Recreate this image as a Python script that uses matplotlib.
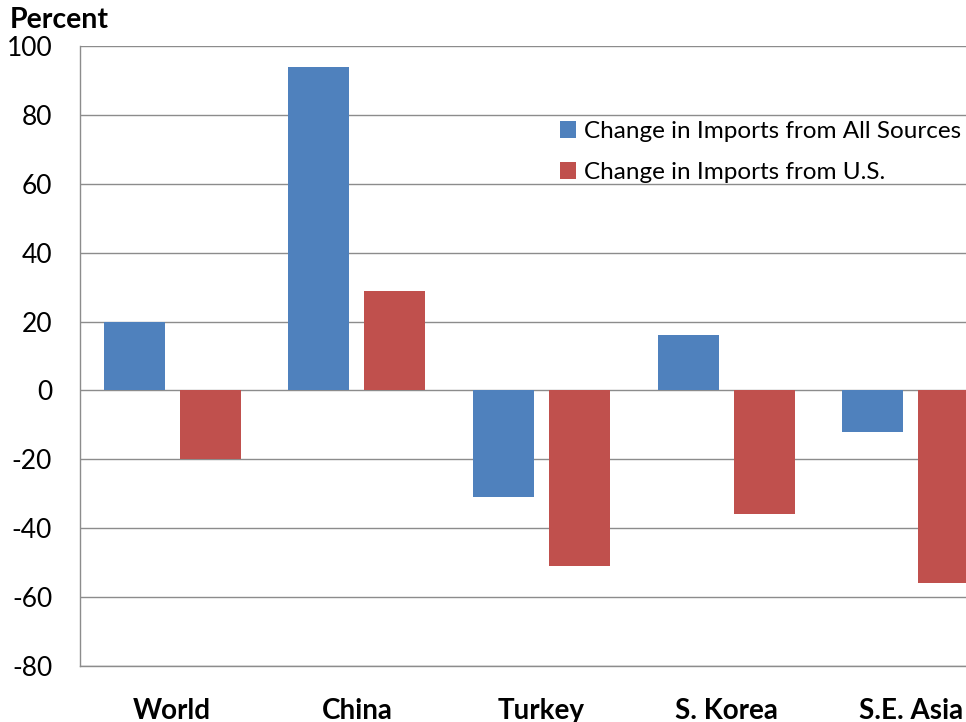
import matplotlib.pyplot as plt
import numpy as np

plt.rcParams['font.family'] = ['Lato', 'DejaVu Sans']
plt.rcParams['axes.unicode_minus'] = False

# data
regions = ['World', 'China', 'Turkey', 'S. Korea', 'S.E. Asia']
all_sources = [20, 94, -31, 16, -12]
from_us = [-20, 29, -51, -36, -56]

blue = '#4F81BD'
red = '#C0504D'
grid_c = '#8C8C8C'

fig = plt.figure(figsize=(9.66, 7.22), dpi=100)
ax = fig.add_axes([80 / 966, 1 - 666 / 722, 923 / 966, 620 / 722])

x = np.arange(len(regions))
w = 0.33
ax.bar(x - 0.206, all_sources, w, color=blue, label='Change in Imports from All Sources', zorder=3)
ax.bar(x + 0.206, from_us, w, color=red, label='Change in Imports from U.S.', zorder=3)

ax.set_xlim(-0.5, 4.5)
ax.set_ylim(-80, 100)
ax.set_yticks(range(-80, 101, 20))
ax.grid(axis='y', color=grid_c, linewidth=1, zorder=0)
ax.set_axisbelow(True)

for s in ['top', 'right']:
    ax.spines[s].set_visible(False)
for s in ['left', 'bottom']:
    ax.spines[s].set_color(grid_c)
    ax.spines[s].set_linewidth(1)

ax.set_xticks(x)
ax.set_xticklabels(regions, fontsize=20, fontweight='bold')
ax.tick_params(axis='x', length=0, pad=23)
ax.tick_params(axis='y', length=0, pad=20, labelsize=19)

fig.text(10 / 966, 1 - 20 / 722, 'Percent', fontsize=20.5, fontweight='bold', va='center', ha='left')

leg = ax.legend(loc='upper left', frameon=False, fontsize=17.5, handlelength=0.65, handleheight=0.65,
                handletextpad=0.35, labelspacing=0.82, borderpad=0, borderaxespad=0)
leg.set_bbox_to_anchor((560 / 966, 1 - 121 / 722), transform=fig.transFigure)

fig.savefig('out.png', dpi=100)
